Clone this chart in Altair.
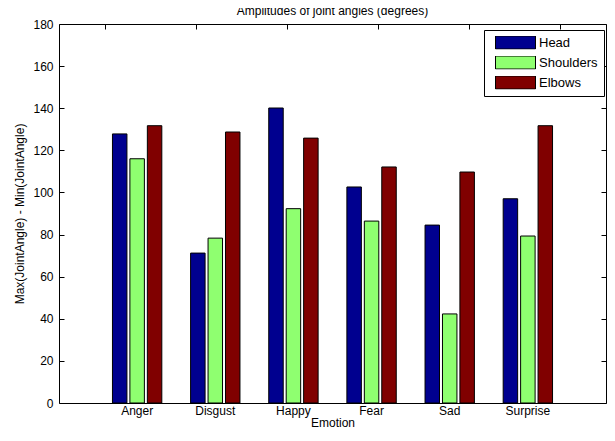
import altair as alt
import pandas as pd

emotions = ["Anger", "Disgust", "Happy", "Fear", "Sad", "Surprise"]
joints = ["Head", "Shoulders", "Elbows"]
head = [127.8, 71.2, 140.1, 102.6, 84.5, 97.0]
shoulders = [116.0, 78.3, 92.3, 86.4, 42.3, 79.3]
elbows = [131.7, 128.7, 125.8, 112.1, 109.7, 131.7]
colors = ["#00008F", "#8FFF70", "#800000"]
y_ticks = list(range(0, 181, 20))

rows = []
for j, vals in zip(joints, [head, shoulders, elbows]):
    for e, v in zip(emotions, vals):
        rows.append({"Emotion": e, "Joint": j, "Value": v})
df = pd.DataFrame(rows)

FONT = "Liberation Sans"

def xscale():
    return alt.Scale(domain=emotions, paddingInner=0, paddingOuter=0.5)

def yscale():
    return alt.Scale(domain=[0, 180], nice=False, zero=True)

bars = alt.Chart(df).mark_bar(stroke="black", strokeWidth=1).encode(
    x=alt.X("Emotion:N", scale=xscale(), sort=emotions,
            axis=alt.Axis(orient="bottom", title="Emotion", labelAngle=0, domain=False,
                          offset=-5, tickSize=5, labelPadding=2, titlePadding=1)),
    xOffset=alt.XOffset("Joint:N", sort=joints,
                        scale=alt.Scale(domain=joints, paddingInner=0.17, paddingOuter=0.825)),
    y=alt.Y("Value:Q", scale=yscale(),
            axis=alt.Axis(values=y_ticks, title="Max(JointAngle) - Min(JointAngle)", grid=False,
                          domain=False, offset=-5, tickSize=5, labelPadding=6, titlePadding=6)),
    color=alt.Color("Joint:N", sort=joints, scale=alt.Scale(domain=joints, range=colors),
                    legend=alt.Legend(title=None, orient="none", legendX=425, legendY=6,
                                      symbolType="M-1,-0.325H1V0.325H-1Z", symbolSize=1600,
                                      clipHeight=13, symbolStrokeColor="black",
                                      symbolStrokeWidth=1, symbolOpacity=1,
                                      labelFontSize=13, labelFont=FONT, labelColor="black",
                                      labelOffset=3, rowPadding=6, padding=6, symbolOffset=5,
                                      strokeColor="black", fillColor="white")),
)

frame = alt.Chart(df).mark_point(opacity=0).encode(
    x=alt.X("Emotion:N", scale=xscale(), sort=emotions,
            axis=alt.Axis(orient="top", title=None, labels=False, domain=False,
                          offset=-5, tickSize=5)),
    y=alt.Y("Value:Q", scale=yscale(),
            axis=alt.Axis(orient="right", values=y_ticks, title=None, labels=False, grid=False,
                          domain=False, offset=-5, tickSize=5)),
)

chart = alt.layer(bars, frame).resolve_scale(x="independent", y="independent").properties(
    width=547, height=379,
    autosize=alt.AutoSizeParams(type="none"),
    padding={"left": 51, "top": 16, "right": 1, "bottom": 26},
    title=alt.TitleParams("Amplitudes of joint angles (degrees)", fontSize=12, fontWeight="normal",
                          font=FONT, color="black", offset=0),
).configure_view(stroke="black", strokeWidth=1).configure_axis(
    labelFont=FONT, titleFont=FONT, labelFontSize=12, titleFontSize=12,
    labelColor="black", titleColor="black", tickColor="black", titleFontWeight="normal",
)

chart.save("out.html", embed_options={"renderer": "svg", "actions": False})
